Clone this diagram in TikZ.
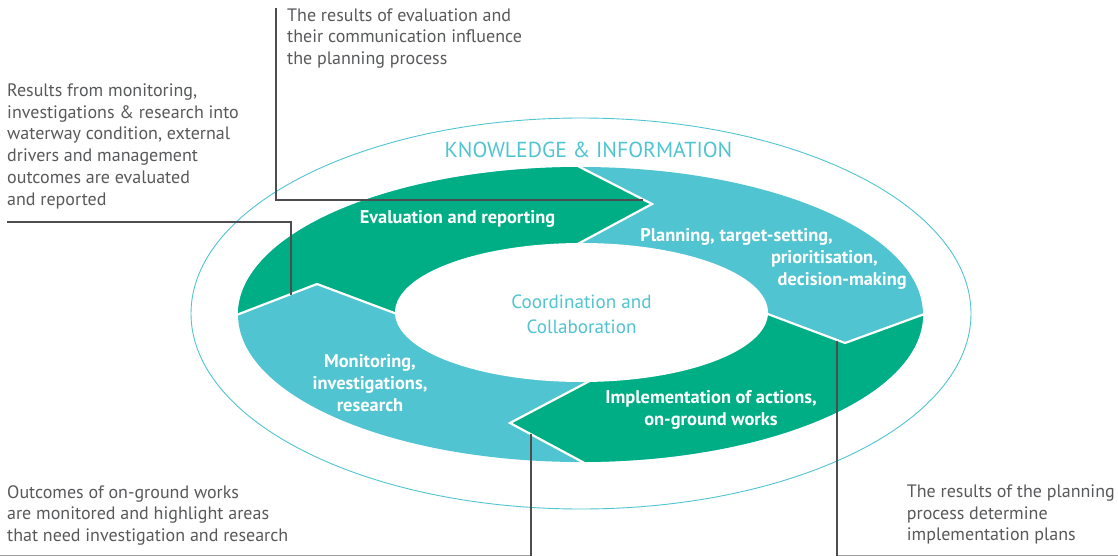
\documentclass[tikz,border=0pt]{standalone}
\usepackage{fontspec}
\setmainfont{PT Sans}
\definecolor{ringgreen}{HTML}{00AE85}
\definecolor{ringteal}{HTML}{50C4D0}
\definecolor{notegray}{HTML}{58595B}
\definecolor{leadgray}{HTML}{4D4D4F}
\definecolor{basegray}{HTML}{A0A0A0}
\begin{document}
\begin{tikzpicture}[x=1pt,y=-1pt,
  % multi-line nodes are placed by the baseline of their last line
  note/.style={anchor=base west, align=left, inner sep=0pt, text=notegray,
    font=\fontsize{18}{21.7}\selectfont},
  stage/.style={anchor=base, align=center, inner sep=0pt, text=white,
    font=\bfseries\fontsize{18.4}{22}\selectfont},
  centre/.style={anchor=base, align=center, inner sep=0pt, text=ringteal,
    font=\fontsize{19.1}{25}\selectfont},
  leader/.style={draw=leadgray, line width=2pt},
  baserule/.style={draw=basegray, line width=1.2pt},
  separator/.style={draw=white, line width=2.2pt, line join=miter},
]
\useasboundingbox (0,0) rectangle (1118,556);

% outer knowledge ellipse and its title
\draw[ringteal, line width=0.9pt] (581,313.5) ellipse [x radius=390pt, y radius=195.5pt];
\node[centre, font=\fontsize{21.7}{24}\selectfont] (knowledge) at (588.5,157.3)
  {KNOWLEDGE \& INFORMATION};

% the four-stage ring
\begin{scope}
  \clip (580.5,314.5) ellipse [x radius=342.5pt, y radius=147.5pt];
  \fill[ringteal] (200,150) rectangle (960,480);
  \fill[ringgreen] (581,313) -- (413,320) -- (317,284) -- (239,314) -- (150,348)
     -- (150,100) -- (580,100) -- (580,167) -- (652,204) -- (561,253) -- cycle;
  \fill[ringgreen] (581,313) -- (749,307) -- (845,343) -- (923,315) -- (1000,286)
     -- (1000,520) -- (582,520) -- (582,462) -- (510,423) -- (601,375) -- cycle;
\end{scope}

% white chevrons between the stages
\draw[separator] (572,163) -- (652,204) -- (561,253);
\draw[separator] (749,307) -- (845,343) -- (930,312);
\draw[separator] (601,375) -- (510,423) -- (590,466);
\draw[separator] (230,317.5) -- (317,284) -- (413,320);

% inner hole
\fill[white] (581.5,312.5) ellipse [x radius=186.5pt, y radius=69.5pt];
\node[centre] (coord) at (581.5,333.3) {Coordination and\\Collaboration};

% stage labels
\node[stage] (evaluation) at (457.5,223.3) {Evaluation and reporting};
\node[stage, anchor=base east] (planning) at (833,241) {Planning, target-setting,};
\node[stage, anchor=base east] (planning2) at (878,263) {prioritisation,};
\node[stage, anchor=base east] (planning3) at (907,285) {decision-making};
\node[stage] (implementation) at (711,425.5) {Implementation of actions,\\on-ground works};
\node[stage] (monitoring) at (370,411.5) {Monitoring,\\investigations,\\research};

% explanatory notes
\node[note] (evalnote) at (287,64.5)
  {The results of evaluation and\\their communication influence\\the planning process};
\node[note] (resultsnote) at (7,205)
  {Results from monitoring,\\investigations \& research into\\waterway condition, external\\drivers and management\\outcomes are evaluated\\and reported};
\node[note] (outcomenote) at (7,541.5)
  {Outcomes of on-ground works\\are monitored and highlight areas\\that need investigation and research};
\node[note] (plannote) at (906.7,540.7)
  {The results of the planning\\process determine\\implementation plans};

% leader lines from the notes to the stage transitions
\coordinate (evaltip) at (643,200);
\coordinate (evalstart) at (276,8);
\coordinate (montip) at (291,295);
\coordinate (monstart) at (7,222);
\coordinate (impltip) at (531,434);
\coordinate (implfoot) at (531,556);
\coordinate (plantip) at (837,341);
\coordinate (planfoot) at (837,556);
\coordinate (leftend) at (0,555.4);
\coordinate (rightend) at (1118,555.4);

\draw[leader] (evalstart) |- (evaltip);
\draw[leader] (monstart) -| (montip);
\draw[baserule] (leftend) -- (implfoot |- leftend);
\draw[baserule] (planfoot |- rightend) -- (rightend);
\draw[leader] (impltip) -- (implfoot);
\draw[leader] (plantip) -- (planfoot);
\end{tikzpicture}
\end{document}
